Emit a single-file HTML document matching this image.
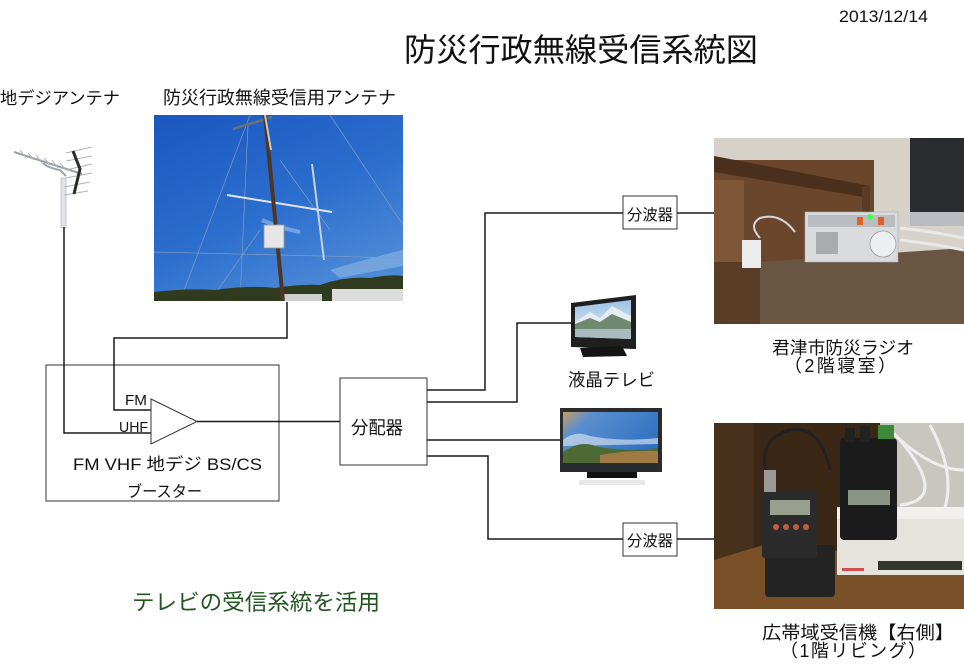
<!DOCTYPE html>
<html><head><meta charset="utf-8">
<style>
html,body{margin:0;padding:0;background:#fff;}
svg{display:block;}
text{font-family:"Liberation Sans","Noto Sans CJK JP",sans-serif;fill:#111;}
</style></head>
<body>
<svg width="964" height="666" viewBox="0 0 964 666" xmlns="http://www.w3.org/2000/svg">
<defs>
<linearGradient id="sky" x1="0" y1="0" x2="0.6" y2="1">
<stop offset="0" stop-color="#1a56bf"/><stop offset="0.6" stop-color="#2c6fce"/><stop offset="1" stop-color="#4d8ad6"/>
</linearGradient>
<linearGradient id="tv2sky" x1="0" y1="0" x2="1" y2="0.6">
<stop offset="0" stop-color="#c79a6a"/><stop offset="0.25" stop-color="#5a8fcf"/><stop offset="1" stop-color="#2e6fc0"/>
</linearGradient>
<linearGradient id="tv1sky" x1="0" y1="0" x2="0" y2="1">
<stop offset="0" stop-color="#9cc4e4"/><stop offset="1" stop-color="#dfe8ee"/>
</linearGradient>
<clipPath id="c1"><rect x="154" y="115" width="249" height="186"/></clipPath>
<clipPath id="c2"><rect x="714" y="138" width="250" height="186"/></clipPath>
<clipPath id="c3"><rect x="714" y="423" width="250" height="186"/></clipPath>
</defs>

<!-- header -->
<text x="839" y="22" font-size="17" textLength="89" lengthAdjust="spacingAndGlyphs">2013/12/14</text>
<text x="404" y="61" font-size="32" textLength="354" lengthAdjust="spacingAndGlyphs">防災行政無線受信系統図</text>

<text x="0" y="104" font-size="17" textLength="120" lengthAdjust="spacingAndGlyphs">地デジアンテナ</text>
<text x="163" y="104" font-size="18" textLength="233" lengthAdjust="spacingAndGlyphs">防災行政無線受信用アンテナ</text>

<!-- UHF antenna icon -->
<g>
<rect x="61" y="178" width="5" height="50" fill="#e2e4e8" stroke="#b8bcc2" stroke-width="0.8"/>
<line x1="14" y1="152" x2="82" y2="174" stroke="#9aa0a8" stroke-width="2"/>
<path d="M43 163 Q48 168 60 170 L66 176" stroke="#a0a4aa" stroke-width="2" fill="none"/>
<g stroke="#b0b4ba" stroke-width="1">
<line x1="20" y1="150" x2="26" y2="158"/><line x1="28" y1="153" x2="34" y2="160"/><line x1="36" y1="155" x2="42" y2="163"/>
<line x1="44" y1="158" x2="50" y2="165"/><line x1="52" y1="160" x2="58" y2="168"/><line x1="60" y1="163" x2="66" y2="170"/>
<line x1="66" y1="153" x2="92" y2="147"/><line x1="66" y1="161" x2="92" y2="156"/><line x1="66" y1="170" x2="92" y2="164"/>
<line x1="66" y1="178" x2="92" y2="173"/><line x1="64" y1="187" x2="90" y2="182"/><line x1="64" y1="195" x2="88" y2="191"/>
</g>
<polyline points="73,151 80,169 74,194" stroke="#2c2c2c" stroke-width="3" fill="none"/>
</g>

<!-- Photo 1: antenna pole -->
<g clip-path="url(#c1)">
<rect x="154" y="115" width="249" height="186" fill="url(#sky)"/>
<path d="M330 270 Q370 258 403 250 L403 266 Q370 272 340 278 Z" fill="#8fb6e2" opacity="0.6"/>
<path d="M262 220 Q280 228 300 232" stroke="#9cc0ea" stroke-width="4" fill="none" opacity="0.6"/>
<g stroke="#7f9cc4" stroke-width="0.7" fill="none">
<line x1="250" y1="115" x2="180" y2="301"/><line x1="248" y1="125" x2="240" y2="301"/>
<line x1="330" y1="115" x2="403" y2="225"/><line x1="260" y1="230" x2="210" y2="301"/>
<line x1="280" y1="160" x2="330" y2="230"/><line x1="154" y1="252" x2="403" y2="258"/>
</g>
<path d="M154 301 L154 292 Q190 288 215 290 Q250 285 275 288 Q300 284 320 285 Q345 276 370 278 Q390 274 403 276 L403 301 Z" fill="#2f3a1f"/>
<rect x="332" y="289" width="71" height="12" fill="#dcdcdc"/>
<rect x="282" y="294" width="40" height="7" fill="#cfcfcf"/>
<line x1="233" y1="129" x2="272" y2="117" stroke="#6a6f78" stroke-width="2.5"/>
<line x1="227" y1="195" x2="332" y2="212" stroke="#dfe6f2" stroke-width="2"/>
<line x1="312" y1="164" x2="324" y2="260" stroke="#c7d0de" stroke-width="2"/>
<line x1="265" y1="115" x2="283" y2="301" stroke="#4e3624" stroke-width="4"/>
<line x1="265" y1="115" x2="271" y2="150" stroke="#c8c8c8" stroke-width="2"/>
<rect x="264" y="225" width="20" height="23" fill="#e6e6e6" stroke="#9a9a9a" stroke-width="0.8"/>
</g>

<!-- Booster box -->
<rect x="46" y="365" width="233" height="136" fill="none" stroke="#333" stroke-width="1"/>
<text x="125" y="405" font-size="15" textLength="22" lengthAdjust="spacingAndGlyphs">FM</text>
<text x="119" y="432" font-size="15" textLength="29" lengthAdjust="spacingAndGlyphs">UHF</text>
<text x="73" y="470" font-size="17" textLength="189" lengthAdjust="spacingAndGlyphs">FM VHF 地デジ  BS/CS</text>
<text x="127" y="497" font-size="16" textLength="75" lengthAdjust="spacingAndGlyphs">ブースター</text>

<!-- connectors -->
<g stroke="#1a1a1a" stroke-width="1.5" fill="none">
<path d="M64 227 V433 H151"/>
<path d="M287 302 V338 H114 V410 H151"/>
<path d="M197 421.5 H340"/>
<path d="M427 390 H485 V213 H623"/>
<path d="M677 213 H714"/>
<path d="M427 402 H517 V323 H571"/>
<path d="M427 440 H560"/>
<path d="M427 456 H488 V539 H623"/>
<path d="M677 539 H714"/>
</g>
<path d="M151 399 L197 421.5 L151 444 Z" fill="#fff" stroke="#333" stroke-width="1"/>

<!-- distributor -->
<rect x="340" y="378" width="87" height="87" fill="#fff" stroke="#333" stroke-width="1"/>
<text x="351" y="434" font-size="18" textLength="52" lengthAdjust="spacingAndGlyphs">分配器</text>

<!-- diplexers -->
<rect x="623" y="196" width="54" height="33" fill="#fff" stroke="#333" stroke-width="1"/>
<text x="627" y="220" font-size="15.5" textLength="46" lengthAdjust="spacingAndGlyphs">分波器</text>
<rect x="623" y="523" width="54" height="33" fill="#fff" stroke="#333" stroke-width="1"/>
<text x="627" y="546" font-size="15.5" textLength="46" lengthAdjust="spacingAndGlyphs">分波器</text>

<!-- TV1 -->
<g>
<polygon points="571,303 636,295 636,349 571,347" fill="#1e1f1e"/>
<polygon points="575,307 631,300 631,339 575,337" fill="url(#tv1sky)"/>
<polygon points="575,322 590,312 600,318 612,306 631,316 631,327 575,327" fill="#e6ecf0"/>
<polygon points="575,324 590,318 600,322 612,314 631,322 631,330 575,330" fill="#6f8a70"/>
<polygon points="575,329 631,329 631,339 575,337" fill="#a8bcc0"/>
<polygon points="580,348 622,346 627,356 583,357" fill="#151515"/>
</g>
<text x="568" y="386" font-size="17.5" textLength="87" lengthAdjust="spacingAndGlyphs">液晶テレビ</text>

<!-- TV2 -->
<g>
<rect x="579" y="480" width="66" height="5" fill="#e8e8e8"/>
<rect x="560" y="408" width="102" height="64" fill="#2a2b2c"/>
<rect x="563" y="412" width="95" height="51" fill="url(#tv2sky)"/>
<path d="M563 440 Q575 430 590 436 Q620 442 658 438 L658 444 L563 446 Z" fill="#e6ecf4" opacity="0.6"/>
<path d="M563 452 Q580 440 595 446 Q620 452 658 448 L658 463 L563 463 Z" fill="#4d6a35"/>
<path d="M600 455 Q630 450 658 451 L658 463 L600 463 Z" fill="#a07a45"/>
<rect x="587" y="472" width="50" height="6" fill="#111"/>
</g>

<!-- Photo 2: radio -->
<g clip-path="url(#c2)">
<rect x="714" y="138" width="250" height="186" fill="#d6d2ca"/>
<rect x="714" y="160" width="160" height="164" fill="#6a472c"/>
<rect x="714" y="180" width="30" height="144" fill="#7e5738"/>
<polygon points="714,156 870,186 870,198 714,172" fill="#4a2f1c"/>
<rect x="862" y="186" width="8" height="80" fill="#5a3c26"/>
<rect x="910" y="138" width="54" height="82" fill="#2a2c30"/>
<rect x="910" y="212" width="54" height="14" fill="#b8bcc0"/>
<polygon points="760,262 964,248 964,324 760,324" fill="#6a5542"/>
<polygon points="714,262 760,262 760,324 714,324" fill="#5a3d26"/>
<path d="M900 228 Q935 232 964 238 M900 240 Q935 244 964 250" stroke="#e8e8e8" stroke-width="3" fill="none"/>
<path d="M760 238 Q748 225 760 218 Q780 212 795 232" stroke="#d8d8d8" stroke-width="2" fill="none"/>
<rect x="742" y="240" width="19" height="28" fill="#ececec"/>
<rect x="805" y="212" width="93" height="50" fill="#d9dbdd" stroke="#aaa" stroke-width="0.6"/>
<rect x="808" y="215" width="87" height="12" fill="#b9bdc2"/>
<rect x="816" y="232" width="22" height="22" fill="#a9abae"/>
<circle cx="883" cy="244" r="13" fill="#eceeef" stroke="#999" stroke-width="0.8"/>
<rect x="857" y="217" width="6" height="8" fill="#e0602a"/>
<rect x="878" y="217" width="6" height="8" fill="#e0602a"/>
<circle cx="870" cy="217" r="3" fill="#3cff4a"/>
</g>
<text x="843" y="354" font-size="17.5" text-anchor="middle" textLength="142" lengthAdjust="spacingAndGlyphs">君津市防災ラジオ</text>
<text x="840" y="372" font-size="18" text-anchor="middle" textLength="112" lengthAdjust="spacing">（2階寝室）</text>

<!-- Photo 3: receivers -->
<g clip-path="url(#c3)">
<rect x="714" y="423" width="250" height="186" fill="#3a2716"/>
<rect x="714" y="423" width="40" height="186" fill="#47301c"/>
<polygon points="880,423 964,423 964,520 880,520" fill="#c9c6c0"/>
<path d="M890 430 Q930 470 964 470 M900 440 Q950 500 900 505 M930 425 Q960 480 940 520" stroke="#eeeeee" stroke-width="3" fill="none"/>
<polygon points="714,560 780,540 964,575 964,609 714,609" fill="#7a5028"/>
<rect x="837" y="507" width="127" height="68" fill="#e6e3dc"/>
<rect x="837" y="507" width="127" height="12" fill="#f2f0ec"/>
<rect x="878" y="561" width="84" height="9" fill="#34352f"/>
<rect x="842" y="568" width="22" height="3" fill="#d05050"/>
<path d="M768 478 Q755 440 790 430 Q820 425 830 470" stroke="#222" stroke-width="3" fill="none"/>
<rect x="765" y="545" width="70" height="52" rx="4" fill="#242424"/>
<rect x="762" y="490" width="55" height="68" rx="3" fill="#2b2b2b"/>
<rect x="764" y="470" width="12" height="22" fill="#9a9a98"/>
<rect x="770" y="500" width="40" height="15" fill="#9aa090"/>
<g fill="#c0603e"><circle cx="776" cy="527" r="3"/><circle cx="786" cy="527" r="3"/><circle cx="796" cy="527" r="3"/><circle cx="806" cy="527" r="3"/></g>
<rect x="840" y="438" width="57" height="102" rx="4" fill="#1b1b1b"/>
<rect x="845" y="428" width="10" height="14" fill="#222"/>
<rect x="860" y="426" width="10" height="16" fill="#222"/>
<rect x="848" y="490" width="42" height="15" fill="#8c9486"/>
<rect x="878" y="425" width="16" height="14" fill="#3a8a3a"/>
</g>
<text x="858" y="639" font-size="18" text-anchor="middle" textLength="192" lengthAdjust="spacingAndGlyphs">広帯域受信機【右側】</text>
<text x="853" y="657" font-size="18" text-anchor="middle" textLength="146" lengthAdjust="spacing">（1階リビング）</text>

<!-- green note -->
<text x="132" y="610" font-size="22" textLength="248" lengthAdjust="spacingAndGlyphs" style="fill:#22551f">テレビの受信系統を活用</text>
</svg>
</body></html>
